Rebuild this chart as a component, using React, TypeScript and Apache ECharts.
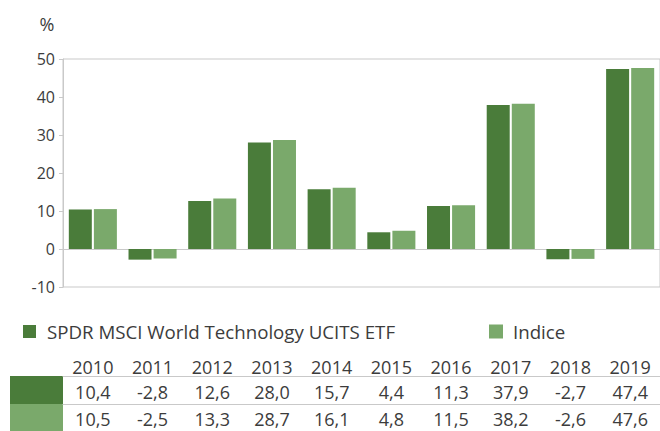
import React, { useEffect, useRef } from "react";
import * as echarts from "echarts";

const years = ["2010", "2011", "2012", "2013", "2014", "2015", "2016", "2017", "2018", "2019"];
const etfName = "SPDR MSCI World Technology UCITS ETF";
const indexName = "Indice";
const etfValues = [10.4, -2.8, 12.6, 28.0, 15.7, 4.4, 11.3, 37.9, -2.7, 47.4];
const indexValues = [10.5, -2.5, 13.3, 28.7, 16.1, 4.8, 11.5, 38.2, -2.6, 47.6];
const yMin = -10;
const yMax = 50;
const yStep = 10;

const DARK = "#4a7c3a";
const LIGHT = "#7aa96b";
const LINE = "#c9c9c9";
const TEXT = "#3c3c3c";
const FONT = "'Open Sans', sans-serif";

const fmt = (v: number) => v.toFixed(1).replace(".", ",");

export default function App() {
  const ref = useRef<HTMLDivElement>(null);
  useEffect(() => {
    if (!ref.current) return;
    const chart = echarts.init(ref.current, undefined, { renderer: "svg" });
    const tableLabel = { fontFamily: FONT, fontSize: 18, lineHeight: 18, color: TEXT };
    const legendBase = {
      top: 322,
      padding: 0,
      icon: "rect",
      itemWidth: 13,
      itemHeight: 13,
    };
    chart.setOption({
      animation: false,
      textStyle: { fontFamily: FONT },
      grid: {
        left: 63,
        top: 59,
        width: 600,
        height: 228,
        show: true,
        borderColor: LINE,
        borderWidth: 1,
      },
      legend: [
        {
          ...legendBase,
          data: [etfName],
          left: 23,
          textStyle: { fontFamily: FONT, fontSize: 18.7, color: TEXT, padding: [0, 0, 0, 6] },
        },
        {
          ...legendBase,
          data: [indexName],
          left: 489,
          itemWidth: 14,
          itemHeight: 14,
          textStyle: { fontFamily: FONT, fontSize: 18.7, color: TEXT, padding: [0, 0, 0, 5] },
        },
      ],
      xAxis: [
        {
          type: "category",
          data: years,
          axisLine: { onZero: true, lineStyle: { color: LINE, width: 1 } },
          axisTick: { show: false },
          axisLabel: { show: false },
        },
        {
          type: "category",
          data: years,
          position: "bottom",
          offset: 89,
          axisLine: { show: false, onZero: false },
          axisTick: { show: false },
          axisLabel: { ...tableLabel, inside: true, margin: 0 },
        },
        {
          type: "category",
          data: etfValues.map(fmt),
          position: "bottom",
          offset: 89,
          axisLine: { show: true, onZero: false, lineStyle: { color: LINE, width: 1 } },
          axisTick: { show: false },
          axisLabel: { ...tableLabel, margin: 7 },
        },
        {
          type: "category",
          data: indexValues.map(fmt),
          position: "bottom",
          offset: 117,
          axisLine: { show: true, onZero: false, lineStyle: { color: LINE, width: 1 } },
          axisTick: { show: false },
          axisLabel: { ...tableLabel, margin: 6 },
        },
      ],
      yAxis: {
        type: "value",
        min: yMin,
        max: yMax,
        interval: yStep,
        axisLine: { show: true, lineStyle: { color: LINE } },
        axisTick: { show: true, length: 4, lineStyle: { color: LINE } },
        splitLine: { show: false },
        axisLabel: { fontFamily: FONT, fontSize: 16, color: TEXT, margin: 8, padding: [4, 0, 0, 0] },
      },
      series: [
        {
          name: etfName,
          type: "bar",
          data: etfValues,
          barWidth: 23,
          barGap: "9%",
          itemStyle: { color: DARK },
        },
        {
          name: indexName,
          type: "bar",
          data: indexValues,
          barWidth: 23,
          barGap: "9%",
          itemStyle: { color: LIGHT },
        },
      ],
      graphic: [
        {
          type: "text",
          x: 47,
          y: 24,
          style: { text: "%", fontFamily: FONT, fontSize: 18, fill: TEXT, align: "center", verticalAlign: "middle" },
        },
        { type: "rect", shape: { x: 10, y: 376, width: 53, height: 28 }, style: { fill: DARK } },
        { type: "rect", shape: { x: 10, y: 404, width: 53, height: 27 }, style: { fill: LIGHT } },
      ],
    });
    return () => chart.dispose();
  }, []);
  return (
    <div
      ref={ref}
      style={{ position: "absolute", left: 0, top: 0, width: 660, height: 431 }}
    />
  );
}
